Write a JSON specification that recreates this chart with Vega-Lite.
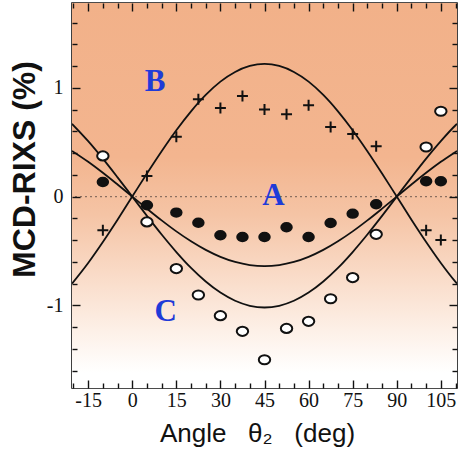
{
  "$schema": "https://vega.github.io/schema/vega-lite/v6.json",
  "autosize": {"type": "none"},
  "padding": {"left": 72, "top": 3, "right": 2, "bottom": 66},
  "width": 385,
  "height": 385,
  "background": "#ffffff",
  "config": {
    "view": {"stroke": "#111111", "strokeWidth": 1.6},
    "axis": {"domain": false, "grid": false, "zindex": 1, "ticks": true, "tickColor": "#111111", "tickWidth": 1.4, "labelColor": "#111111", "titleColor": "#111111"}
  },
  "datasets": {
    "curves": [
      {"series": "A", "x": -20.5, "y": 0.42}, {"series": "A", "x": -15, "y": 0.32}, {"series": "A", "x": -10, "y": 0.219}, {"series": "A", "x": -5, "y": 0.111},
      {"series": "A", "x": 0, "y": 0}, {"series": "A", "x": 5, "y": -0.111}, {"series": "A", "x": 10, "y": -0.219}, {"series": "A", "x": 15, "y": -0.32},
      {"series": "A", "x": 20, "y": -0.411}, {"series": "A", "x": 25, "y": -0.49}, {"series": "A", "x": 30, "y": -0.554}, {"series": "A", "x": 35, "y": -0.601},
      {"series": "A", "x": 40, "y": -0.63}, {"series": "A", "x": 45, "y": -0.64}, {"series": "A", "x": 50, "y": -0.63}, {"series": "A", "x": 55, "y": -0.601},
      {"series": "A", "x": 60, "y": -0.554}, {"series": "A", "x": 65, "y": -0.49}, {"series": "A", "x": 70, "y": -0.411}, {"series": "A", "x": 75, "y": -0.32},
      {"series": "A", "x": 80, "y": -0.219}, {"series": "A", "x": 85, "y": -0.111}, {"series": "A", "x": 90, "y": 0}, {"series": "A", "x": 95, "y": 0.111},
      {"series": "A", "x": 100, "y": 0.219}, {"series": "A", "x": 105, "y": 0.32}, {"series": "A", "x": 110, "y": 0.411}, {"series": "A", "x": 110.5, "y": 0.42},
      {"series": "B", "x": -20.5, "y": -0.8}, {"series": "B", "x": -15, "y": -0.61}, {"series": "B", "x": -10, "y": -0.417}, {"series": "B", "x": -5, "y": -0.212},
      {"series": "B", "x": 0, "y": 0}, {"series": "B", "x": 5, "y": 0.212}, {"series": "B", "x": 10, "y": 0.417}, {"series": "B", "x": 15, "y": 0.61},
      {"series": "B", "x": 20, "y": 0.784}, {"series": "B", "x": 25, "y": 0.935}, {"series": "B", "x": 30, "y": 1.057}, {"series": "B", "x": 35, "y": 1.146},
      {"series": "B", "x": 40, "y": 1.201}, {"series": "B", "x": 45, "y": 1.22}, {"series": "B", "x": 50, "y": 1.201}, {"series": "B", "x": 55, "y": 1.146},
      {"series": "B", "x": 60, "y": 1.057}, {"series": "B", "x": 65, "y": 0.935}, {"series": "B", "x": 70, "y": 0.784}, {"series": "B", "x": 75, "y": 0.61},
      {"series": "B", "x": 80, "y": 0.417}, {"series": "B", "x": 85, "y": 0.212}, {"series": "B", "x": 90, "y": 0}, {"series": "B", "x": 95, "y": -0.212},
      {"series": "B", "x": 100, "y": -0.417}, {"series": "B", "x": 105, "y": -0.61}, {"series": "B", "x": 110, "y": -0.784}, {"series": "B", "x": 110.5, "y": -0.8},
      {"series": "C", "x": -20.5, "y": 0.669}, {"series": "C", "x": -15, "y": 0.51}, {"series": "C", "x": -10, "y": 0.349}, {"series": "C", "x": -5, "y": 0.177},
      {"series": "C", "x": 0, "y": 0}, {"series": "C", "x": 5, "y": -0.177}, {"series": "C", "x": 10, "y": -0.349}, {"series": "C", "x": 15, "y": -0.51},
      {"series": "C", "x": 20, "y": -0.656}, {"series": "C", "x": 25, "y": -0.781}, {"series": "C", "x": 30, "y": -0.883}, {"series": "C", "x": 35, "y": -0.958},
      {"series": "C", "x": 40, "y": -1.004}, {"series": "C", "x": 45, "y": -1.02}, {"series": "C", "x": 50, "y": -1.004}, {"series": "C", "x": 55, "y": -0.958},
      {"series": "C", "x": 60, "y": -0.883}, {"series": "C", "x": 65, "y": -0.781}, {"series": "C", "x": 70, "y": -0.656}, {"series": "C", "x": 75, "y": -0.51},
      {"series": "C", "x": 80, "y": -0.349}, {"series": "C", "x": 85, "y": -0.177}, {"series": "C", "x": 90, "y": 0}, {"series": "C", "x": 95, "y": 0.177},
      {"series": "C", "x": 100, "y": 0.349}, {"series": "C", "x": 105, "y": 0.51}, {"series": "C", "x": 110, "y": 0.656}, {"series": "C", "x": 110.5, "y": 0.669}
    ],
    "points": [
      {"series": "B", "x": -10, "y": -0.31}, {"series": "B", "x": 5, "y": 0.19}, {"series": "B", "x": 15, "y": 0.55}, {"series": "B", "x": 22.5, "y": 0.895},
      {"series": "B", "x": 30, "y": 0.815}, {"series": "B", "x": 37.5, "y": 0.925}, {"series": "B", "x": 45, "y": 0.8}, {"series": "B", "x": 52.5, "y": 0.757},
      {"series": "B", "x": 60, "y": 0.84}, {"series": "B", "x": 67.5, "y": 0.64}, {"series": "B", "x": 75, "y": 0.576}, {"series": "B", "x": 83, "y": 0.463},
      {"series": "B", "x": 100, "y": -0.31}, {"series": "B", "x": 105, "y": -0.4},
      {"series": "A", "x": -10, "y": 0.134}, {"series": "A", "x": 5, "y": -0.08}, {"series": "A", "x": 15, "y": -0.147}, {"series": "A", "x": 22.5, "y": -0.24},
      {"series": "A", "x": 30, "y": -0.356}, {"series": "A", "x": 37.5, "y": -0.371}, {"series": "A", "x": 45, "y": -0.371}, {"series": "A", "x": 52.5, "y": -0.282},
      {"series": "A", "x": 60, "y": -0.371}, {"series": "A", "x": 67.5, "y": -0.243}, {"series": "A", "x": 75, "y": -0.157}, {"series": "A", "x": 83, "y": -0.071},
      {"series": "A", "x": 100, "y": 0.141}, {"series": "A", "x": 105, "y": 0.141},
      {"series": "C", "x": -10, "y": 0.374}, {"series": "C", "x": 5, "y": -0.233}, {"series": "C", "x": 15, "y": -0.662}, {"series": "C", "x": 22.5, "y": -0.905},
      {"series": "C", "x": 30, "y": -1.095}, {"series": "C", "x": 37.5, "y": -1.239}, {"series": "C", "x": 45, "y": -1.5}, {"series": "C", "x": 52.5, "y": -1.212},
      {"series": "C", "x": 60, "y": -1.147}, {"series": "C", "x": 67.5, "y": -0.939}, {"series": "C", "x": 75, "y": -0.745}, {"series": "C", "x": 83, "y": -0.347},
      {"series": "C", "x": 100, "y": 0.456}, {"series": "C", "x": 105, "y": 0.785}
    ],
    "labels": [
      {"label": "B", "x": 7.8, "y": 1.05},
      {"label": "A", "x": 48, "y": 0.01},
      {"label": "C", "x": 11.4, "y": -1.06}
    ]
  },
  "layer": [
    {
      "data": {"values": [{}]},
      "mark": {"type": "rect", "fill": {"gradient": "linear", "x1": 0, "y1": 0, "x2": 0, "y2": 1, "stops": [
        {"offset": 0, "color": "#F2B189"},
        {"offset": 0.4, "color": "#F3B58F"},
        {"offset": 0.55, "color": "#F5C4A5"},
        {"offset": 0.7, "color": "#F9DAC6"},
        {"offset": 0.85, "color": "#FDF0E7"},
        {"offset": 0.96, "color": "#FFFFFF"},
        {"offset": 1, "color": "#FFFFFF"}
      ]}},
      "encoding": {
        "x": {"datum": -20.5, "type": "quantitative", "scale": {"domain": [-20.5, 110.5], "nice": false, "zero": false},
          "axis": {"orient": "bottom", "zindex": 2, "values": [-20,-15,-10,-5,0,5,10,15,20,25,30,35,40,45,50,55,60,65,70,75,80,85,90,95,100,105,110],
            "labelExpr": "datum.value % 15 == 0 ? (datum.value < 0 ? '-' + abs(datum.value) : '' + datum.value) : ''",
            "tickSize": {"condition": {"test": "datum.value % 15 == 0", "value": -8}, "value": -5},
            "labelPadding": 10, "labelFont": "Liberation Serif", "labelFontSize": 20, "labelOverlap": false, "labelFlush": false,
            "title": "Angle\u00a0\u00a0 θ₂\u00a0\u00a0 (deg)", "titleFont": "Liberation Sans", "titleFontSize": 26, "titleFontWeight": "normal",
            "titleBaseline": "alphabetic", "titleAlign": "center", "titleX": 185, "titleY": 53}},
        "x2": {"datum": 110.5},
        "y": {"datum": 1.78, "type": "quantitative", "scale": {"domain": [-1.76, 1.78], "nice": false, "zero": false},
          "axis": {"orient": "left", "zindex": 2, "values": [-1.6,-1.4,-1.2,-1,-0.8,-0.6,-0.4,-0.2,0,0.2,0.4,0.6,0.8,1,1.2,1.4,1.6],
            "labelExpr": "abs(datum.value - round(datum.value)) < 0.01 ? (datum.value < 0 ? '-' + abs(round(datum.value)) : '' + round(datum.value)) : ''",
            "tickSize": {"condition": {"test": "abs(datum.value - round(datum.value)) < 0.01", "value": -8}, "value": -5},
            "labelPadding": 17, "labelFont": "Liberation Serif", "labelFontSize": 20, "labelOverlap": false, "labelFlush": false,
            "title": "MCD-RIXS (%)", "titleFont": "Liberation Sans", "titleFontSize": 32, "titleFontWeight": "bold",
            "titleBaseline": "alphabetic", "titleAlign": "center", "titleAngle": -90, "titleX": -38, "titleY": 166}},
        "y2": {"datum": -1.76}
      }
    },
    {
      "data": {"values": [{}]},
      "mark": {"type": "rule", "color": "#8C6F60", "strokeWidth": 1.2, "strokeDash": [2, 3]},
      "encoding": {"y": {"datum": 0, "type": "quantitative", "axis": null}}
    },
    {
      "data": {"name": "curves"},
      "mark": {"type": "line", "color": "#111111", "strokeWidth": 1.8, "interpolate": "monotone", "clip": true},
      "encoding": {
        "x": {"field": "x", "type": "quantitative", "axis": null},
        "y": {"field": "y", "type": "quantitative", "axis": null},
        "detail": {"field": "series"}
      }
    },
    {
      "data": {"name": "points"},
      "mark": {"type": "point", "filled": true, "stroke": "#111111", "strokeWidth": 2, "opacity": 1},
      "encoding": {
        "x": {"field": "x", "type": "quantitative",
          "axis": {"orient": "top", "zindex": 2, "values": [-20,-15,-10,-5,0,5,10,15,20,25,30,35,40,45,50,55,60,65,70,75,80,85,90,95,100,105,110],
            "labels": false, "title": null,
            "tickSize": {"condition": {"test": "datum.value % 15 == 0", "value": -8}, "value": -5}}},
        "y": {"field": "y", "type": "quantitative",
          "axis": {"orient": "right", "zindex": 2, "values": [-1.6,-1.4,-1.2,-1,-0.8,-0.6,-0.4,-0.2,0,0.2,0.4,0.6,0.8,1,1.2,1.4,1.6],
            "labels": false, "title": null,
            "tickSize": {"condition": {"test": "abs(datum.value - round(datum.value)) < 0.01", "value": -8}, "value": -5}}},
        "shape": {"field": "series", "type": "nominal", "legend": null,
          "scale": {"domain": ["A", "B", "C"], "range": ["M-1,0A1,0.8,0,1,1,1,0A1,0.8,0,1,1,-1,0Z", "M-1,0H1M0,-1V1", "M-1,0A1,0.8,0,1,1,1,0A1,0.8,0,1,1,-1,0Z"]}},
        "fill": {"field": "series", "type": "nominal", "legend": null,
          "scale": {"domain": ["A", "B", "C"], "range": ["#111111", "#111111", "#FFFFFF"]}},
        "size": {"field": "series", "type": "nominal", "legend": null,
          "scale": {"domain": ["A", "B", "C"], "range": [110, 130, 100]}}
      }
    },
    {
      "data": {"name": "labels"},
      "mark": {"type": "text", "font": "Liberation Serif", "fontWeight": "bold", "fontSize": 31, "color": "#1F3BD8", "baseline": "middle", "align": "center"},
      "encoding": {
        "x": {"field": "x", "type": "quantitative", "axis": null},
        "y": {"field": "y", "type": "quantitative", "axis": null},
        "text": {"field": "label"}
      }
    }
  ]
}
